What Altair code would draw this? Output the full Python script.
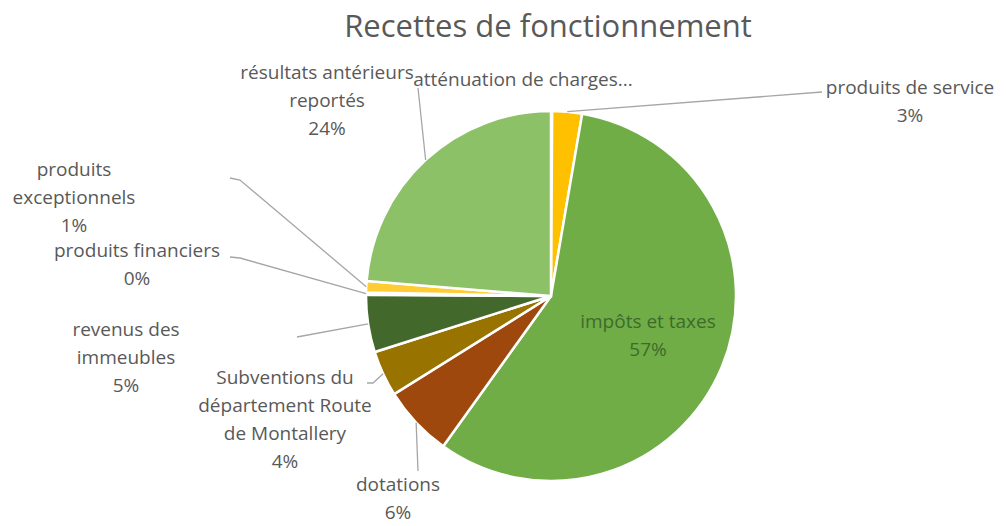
import altair as alt
import numpy as np
import pandas as pd

# ---- data ----
categories = [
    "atténuation de charges",
    "produits de service",
    "impôts et taxes",
    "dotations",
    "Subventions du département Route de Montallery",
    "revenus des immeubles",
    "produits financiers",
    "produits exceptionnels",
    "résultats antérieurs reportés",
]
values = [0.1, 2.6, 57.2, 6.2, 4.0, 5.0, 0.2, 1.0, 23.7]
label_lines = [
    ["atténuation de charges..."],
    ["produits de service"],
    ["impôts et taxes"],
    ["dotations"],
    ["Subventions du", "département Route", "de Montallery"],
    ["revenus des", "immeubles"],
    ["produits financiers"],
    ["produits", "exceptionnels"],
    ["résultats antérieurs", "reportés"],
]
show_pct = [False, True, True, True, True, True, True, True, True]
colors = ["#ED7D31", "#FFC000", "#70AD47", "#9E480E", "#997300",
          "#43682B", "#F1975A", "#FFCD33", "#8CC168"]
title_text = "Recettes de fonctionnement"

# ---- layout (page pixel coords of first label line, leader start points) ----
M = 8
CX, CY, R = 551 - M, 296 - M, 185
LINE_H = 28
label_pos = [(523, 80), (910, 88), (648, 322), (398, 485), (285, 378),
             (126, 330), (137, 251), (74, 170), (327, 73)]
leader_start = [
    None,
    [(822, 92)],
    None,
    [(418, 471)],
    [(367, 383), (373, 383)],
    [(297, 337)],
    [(230, 257), (240, 258)],
    [(230, 178), (240, 180)],
    [(418, 88)],
]
text_color = ["#595959"] * 9
text_color[2] = "#3E6B2A"

total = sum(values)
pie_df = pd.DataFrame({"cat": categories, "val": values, "idx": range(len(values))})

# labels
rows = []
for i, lines in enumerate(label_lines):
    ls = list(lines)
    if show_pct[i]:
        ls.append(f"{round(values[i] / total * 100)}%")
    lx, ly = label_pos[i]
    for j, t in enumerate(ls):
        rows.append({"t": t, "x": lx - M, "y": ly - M + j * LINE_H, "c": text_color[i]})
lab_df = pd.DataFrame(rows)

# leader lines
lrows = []
cum = np.cumsum(values)
for i, pts in enumerate(leader_start):
    if not pts:
        continue
    a = 2 * np.pi * (cum[i] - values[i] / 2) / total
    ex, ey = CX + R * np.sin(a), CY - R * np.cos(a)
    k = 0
    for (px, py) in pts:
        lrows.append({"g": i, "o": k, "x": px - M, "y": py - M})
        k += 1
    lrows.append({"g": i, "o": k, "x": float(ex), "y": float(ey)})
lead_df = pd.DataFrame(lrows)

pie = alt.Chart(pie_df).mark_arc(outerRadius=R, stroke="white", strokeWidth=2.5).encode(
    theta=alt.Theta("val:Q", stack=True),
    order=alt.Order("idx:Q"),
    color=alt.Color("cat:N", scale=alt.Scale(domain=categories, range=colors), legend=None),
    x=alt.value(CX),
    y=alt.value(CY),
)

leaders = alt.Chart(lead_df).mark_line(color="#A6A6A6", strokeWidth=1.3).encode(
    x=alt.X("x:Q", scale=None, axis=None),
    y=alt.Y("y:Q", scale=None, axis=None),
    detail="g:N",
    order="o:Q",
)

labels = alt.Chart(lab_df).mark_text(font="Open Sans", fontSize=19, align="center", baseline="middle").encode(
    x=alt.X("x:Q", scale=None, axis=None),
    y=alt.Y("y:Q", scale=None, axis=None),
    text="t:N",
    color=alt.Color("c:N", scale=None),
)

title = alt.Chart(pd.DataFrame({"t": [title_text]})).mark_text(
    font="Open Sans", fontSize=31, color="#595959", align="center", baseline="middle"
).encode(x=alt.value(548 - M), y=alt.value(28 - M), text="t:N")

chart = alt.layer(pie, leaders, labels, title).properties(
    width=990, height=518, padding=0, autosize=alt.AutoSizeParams(type="none")
).configure_view(stroke=None)

chart.save("out.html", embed_options={"renderer": "svg", "actions": False})
